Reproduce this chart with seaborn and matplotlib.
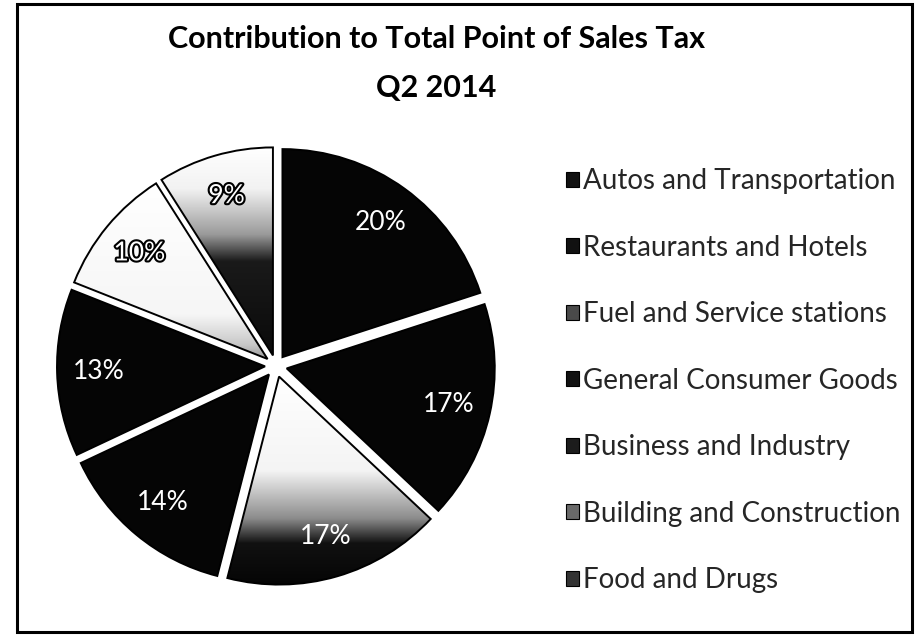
import matplotlib
matplotlib.use("Agg")
import matplotlib.pyplot as plt
import numpy as np
import seaborn as sns
from matplotlib.colors import LinearSegmentedColormap
from matplotlib.patches import Patch, Rectangle
import matplotlib.patheffects as pe

# --- data -------------------------------------------------------------
categories = [
    "Autos and Transportation",
    "Restaurants and Hotels",
    "Fuel and Service stations",
    "General Consumer Goods",
    "Business and Industry",
    "Building and Construction",
    "Food and Drugs",
]
shares = [20, 17, 17, 14, 13, 10, 9]
title_lines = ["Contribution to Total Point of Sales Tax", "Q2 2014"]

# --- styling ----------------------------------------------------------
sns.set_theme(style="white")
plt.rcParams["font.family"] = ["Lato", "DejaVu Sans"]

# per-slice fill: a flat colour or a vertical light-to-dark shade
fills = [
    "#050505",
    "#050505",
    [(0.0, "#ffffff"), (0.45, "#f4f4f4"), (0.68, "#8c8c8c"), (0.8, "#111111"), (1.0, "#050505")],
    "#050505",
    "#050505",
    [(0.0, "#ffffff"), (0.75, "#f6f6f6"), (0.92, "#c8c8c8"), (1.0, "#9a9a9a")],
    [(0.0, "#ffffff"), (0.2, "#f2f2f2"), (0.42, "#9a9a9a"), (0.55, "#1a1a1a"), (1.0, "#0a0a0a")],
]
legend_fill = ["#111111", "#111111", "#4a4a4a", "#111111", "#1c1c1c", "#6a6a6a", "#333333"]
outlined_labels = {5, 6}

W, H = 918, 635
fig = plt.figure(figsize=(W / 100, H / 100), dpi=100)
fig.patch.set_facecolor("white")

# pie axes: square box, 500 px wide, centred on the pie
cx, cy, half, radius_px = 276, 366, 250, 208
ax = fig.add_axes([(cx - half) / W, (H - (cy + half)) / H, 2 * half / W, 2 * half / H])
lim = half / radius_px

wedges, texts, autotexts = ax.pie(
    shares,
    startangle=90,
    counterclock=False,
    explode=[11 / radius_px] * len(shares),
    colors=[f if isinstance(f, str) else "white" for f in fills],
    wedgeprops=dict(edgecolor="black", linewidth=1.4),
    autopct=lambda p: f"{p:.0f}%",
    pctdistance=0.8,
    textprops=dict(fontsize=19, color="white"),
)

# shaded slices: gradient image clipped to the wedge outline
for w, f in zip(wedges, fills):
    if isinstance(f, str):
        continue
    cmap = LinearSegmentedColormap.from_list("shade", f)
    ext = w.get_path().get_extents()
    grad = np.linspace(0, 1, 256).reshape(-1, 1)
    im = ax.imshow(
        grad,
        extent=[ext.x0, ext.x1, ext.y0, ext.y1],
        origin="upper",
        cmap=cmap,
        aspect="auto",
        interpolation="bilinear",
        zorder=w.get_zorder() - 0.5,
    )
    im.set_clip_path(w)
    w.set_facecolor("none")

for i, t in enumerate(autotexts):
    if i in outlined_labels:
        t.set_color("white")
        t.set_path_effects([pe.withStroke(linewidth=3, foreground="black")])

ax.set_xlim(-lim, lim)
ax.set_ylim(-lim, lim)
ax.set_aspect("equal")
ax.axis("off")

# title
fig.text(436 / W, 1 - 39 / H, title_lines[0], ha="center", va="center",
         fontsize=22, fontweight="bold", color="black")
fig.text(436 / W, 1 - 88 / H, title_lines[1], ha="center", va="center",
         fontsize=22, fontweight="bold", color="black")

# legend on the right
handles = [Patch(facecolor=c, edgecolor="black", linewidth=0.8) for c in legend_fill]
fig.legend(
    handles, categories,
    loc="upper left",
    bbox_to_anchor=(566 / W, 1 - 168 / H),
    frameon=False,
    fontsize=20,
    handlelength=0.45,
    handleheight=0.45,
    handletextpad=0.15,
    labelspacing=1.46,
    borderpad=0,
    borderaxespad=0,
)

# chart border
fig.patches.append(Rectangle((17 / W, 1 - 632 / H), (912 - 17) / W, (632 - 4) / H,
                             transform=fig.transFigure, fill=False,
                             edgecolor="black", linewidth=2.2))

fig.savefig("out.png", dpi=100, facecolor="white")
